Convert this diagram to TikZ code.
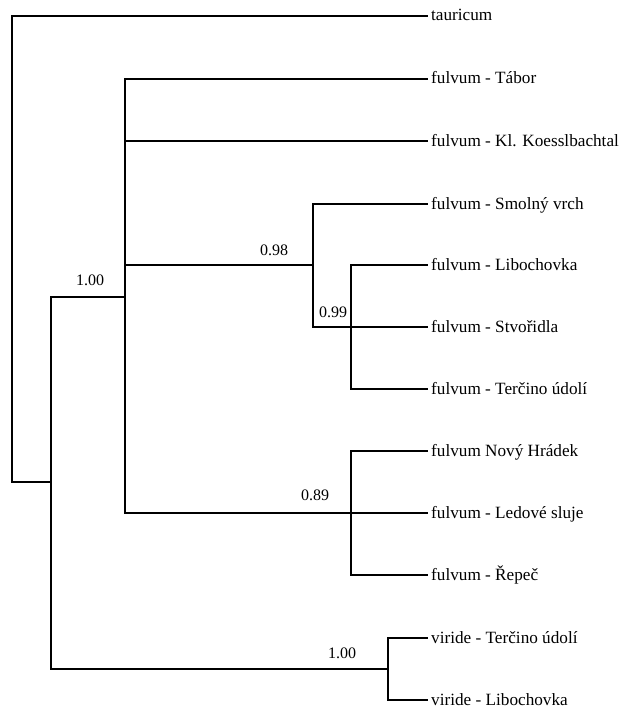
\documentclass[tikz,border=0pt]{standalone}
\usepackage{fontspec}
\setmainfont{Liberation Serif}
\begin{document}
\begin{tikzpicture}[x=1pt,y=-1pt,
  br/.style={line width=1.6pt,line cap=rect,line join=miter},
  leaf/.style={anchor=west,inner xsep=4pt,inner ysep=0pt,text height=12pt,text depth=2pt,font=\fontsize{17.2}{19}\selectfont},
  supp/.style={inner sep=0pt,font=\fontsize{16}{18}\selectfont}]
\useasboundingbox (0,0) rectangle (621,709);
% leaves
\node[leaf] (tau) at (427,16) {tauricum};
\node[leaf] (tab) at (427,79) {fulvum - Tábor};
\node[leaf] (koe) at (427,141) {fulvum - Kl. Koesslbachtal};
\node[leaf] (smo) at (427,204) {fulvum - Smolný vrch};
\node[leaf] (lib) at (427,265) {fulvum - Libochovka};
\node[leaf] (stv) at (427,327) {fulvum - Stvořidla};
\node[leaf] (ter) at (427,389) {fulvum - Terčino údolí};
\node[leaf] (nov) at (427,451) {fulvum Nový Hrádek};
\node[leaf] (led) at (427,513) {fulvum - Ledové sluje};
\node[leaf] (rep) at (427,575) {fulvum - Řepeč};
\node[leaf] (vte) at (427,638) {viride - Terčino údolí};
\node[leaf] (vli) at (427,700) {viride - Libochovka};
% internal nodes
\coordinate (r) at (12,250);
\coordinate (A) at (51,482);
\coordinate (F) at (125,297);
\coordinate (B) at (313,265);
\coordinate (C) at (351,327);
\coordinate (D) at (351,513);
\coordinate (V) at (388,669);
% branches
\draw[br] (r) |- (tau.west);
\draw[br] (r) |- (A);
\draw[br] (A) |- (F);
\draw[br] (A) |- (V);
\draw[br] (F) |- (tab.west);
\draw[br] (F) |- (koe.west);
\draw[br] (F) |- (B);
\draw[br] (F) |- (D);
\draw[br] (B) |- (smo.west);
\draw[br] (B) |- (C);
\draw[br] (C) |- (lib.west);
\draw[br] (C) |- (stv.west);
\draw[br] (C) |- (ter.west);
\draw[br] (D) |- (nov.west);
\draw[br] (D) |- (led.west);
\draw[br] (D) |- (rep.west);
\draw[br] (V) |- (vte.west);
\draw[br] (V) |- (vli.west);
% support values
\node[supp] (sA) at (90,280) {1.00};
\node[supp] (sB) at (274,250) {0.98};
\node[supp] (sC) at (333,312) {0.99};
\node[supp] (sD) at (315,495) {0.89};
\node[supp] (sV) at (342,653) {1.00};
\end{tikzpicture}
\end{document}
